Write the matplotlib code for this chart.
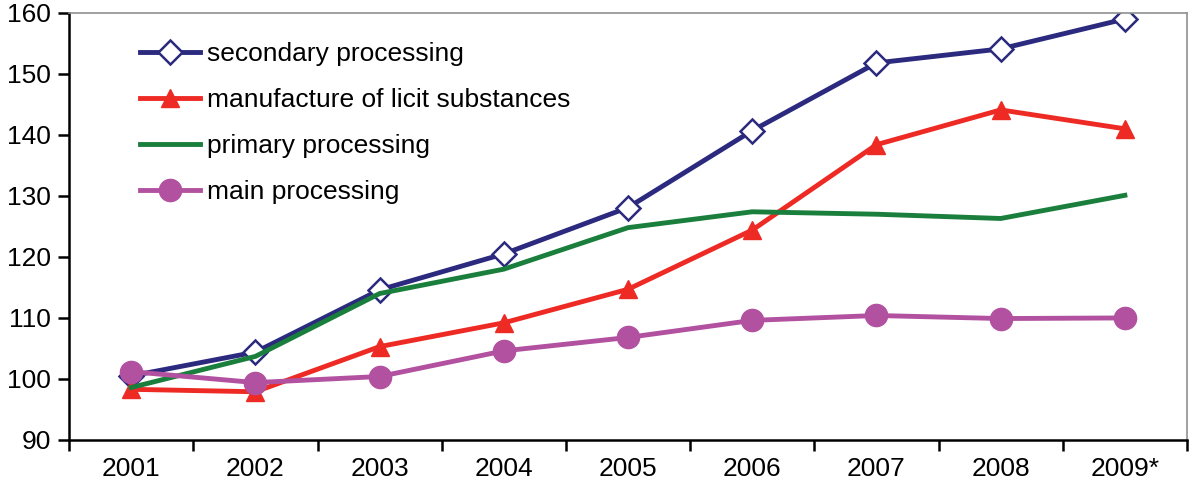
import numpy as np
import matplotlib.pyplot as plt

plt.rcParams['font.family'] = ['Liberation Sans', 'DejaVu Sans']

years = ['2001', '2002', '2003', '2004', '2005', '2006', '2007', '2008', '2009*']
secondary = [100.5, 104.4, 114.6, 120.5, 128.1, 140.7, 151.8, 154.1, 159.0]
licit = [98.3, 97.9, 105.3, 109.2, 114.7, 124.4, 138.4, 144.1, 141.0]
primary = [98.6, 103.7, 114.0, 118.0, 124.8, 127.4, 127.0, 126.3, 130.1]
main_proc = [101.2, 99.4, 100.4, 104.6, 106.8, 109.6, 110.4, 109.9, 110.0]

fig = plt.figure(figsize=(11.92, 4.96), dpi=100)
ax = fig.add_axes([0.058, 0.113, 0.9378, 0.861])

x = np.arange(len(years))
ax.plot(x, secondary, color='#2b2a7f', lw=3.5, marker='D', ms=12,
        mfc='white', mec='#2b2a7f', mew=1.8, label='secondary processing')
ax.plot(x, licit, color='#ee2a24', lw=3.5, marker='^', ms=13,
        mfc='#ee2a24', mec='#ee2a24', label='manufacture of licit substances')
ax.plot(x, primary, color='#1a7f3c', lw=3.5, label='primary processing')
ax.plot(x, main_proc, color='#b251a0', lw=3.5, marker='o', ms=16,
        mfc='#b251a0', mec='#b251a0', label='main processing')

ax.set_xlim(-0.5, len(years) - 0.5)
ax.set_ylim(90, 160)
ax.set_yticks(np.arange(90, 161, 10))
ax.set_xticks(x)
ax.set_xticklabels(years)
ax.set_xticks(np.arange(-0.5, len(years)), minor=True)
ax.tick_params(axis='x', which='major', length=0, pad=12, labelsize=19)
ax.tick_params(axis='x', which='minor', length=8, width=1.8, direction='out')
ax.tick_params(axis='y', length=8, width=1.8, direction='out', labelsize=19, pad=5)

for side in ['top', 'right']:
    ax.spines[side].set_color('#909090')
    ax.spines[side].set_linewidth(1.2)
for side in ['left', 'bottom']:
    ax.spines[side].set_color('black')
    ax.spines[side].set_linewidth(1.8)

ax.legend(loc='upper left', bbox_to_anchor=(0.063, 0.931), frameon=False,
          fontsize=19, handlelength=2.3, handletextpad=0.27, labelspacing=0.83,
          borderaxespad=0, borderpad=0)

fig.savefig('out.png', dpi=100)
